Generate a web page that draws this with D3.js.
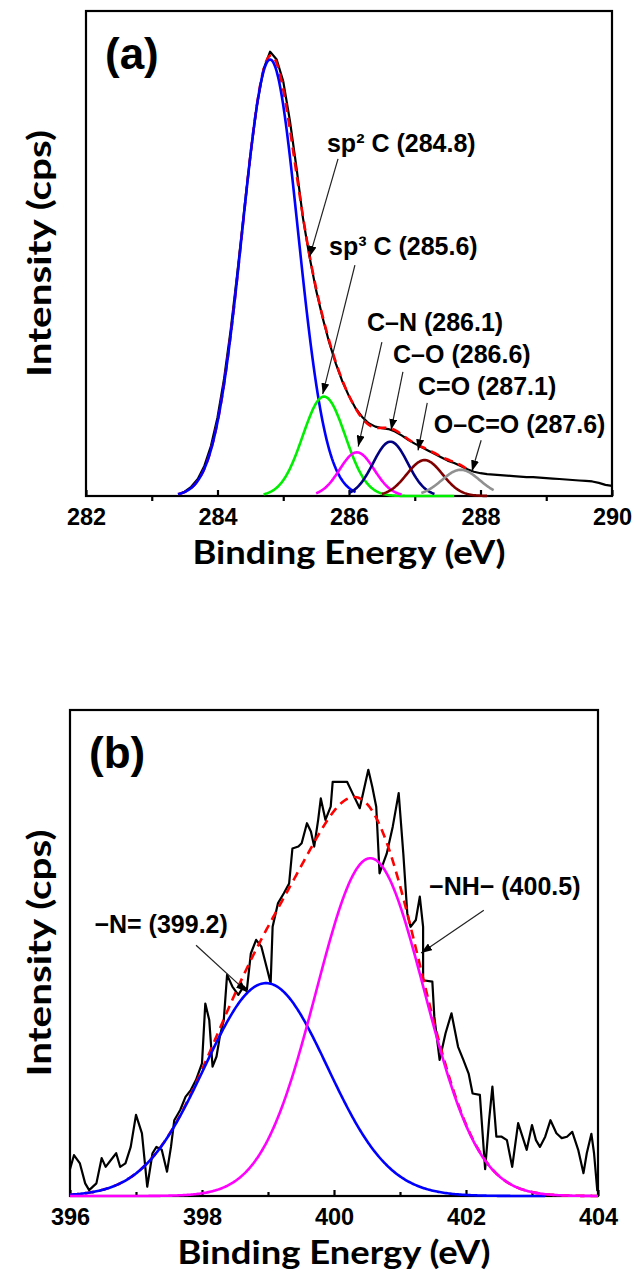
<!DOCTYPE html>
<html><head><meta charset="utf-8">
<script src="https://cdn.jsdelivr.net/npm/d3@7"></script>
<style>html,body{margin:0;padding:0;background:#fff;} svg{display:block;}</style>
</head><body>
<svg id="chart" width="634" height="1271"></svg>
<script>
// ===================== DATA =====================
// Panel (a): C 1s
const aTicks = [282, 284, 286, 288, 290];
const aMinorTicks = [283, 285, 287, 289];
const aMeasured = [
 [283.4,0.3],[283.5,0.9],[283.6,1.9],[283.7,3.5],[283.8,6.2],[283.9,10.3],[284.0,16.2],[284.1,24.2],
 [284.2,34.2],[284.3,45.8],[284.4,58.2],[284.5,70.3],[284.6,80.6],[284.7,88.0],[284.8,91.6],[284.9,90.0],
 [285.0,85.5],[285.1,77.5],[285.2,67.8],[285.3,57.3],[285.4,49.3],[285.5,42.4],[285.6,36.7],[285.7,31.6],
 [285.8,27.3],[285.9,23.6],[286.0,20.6],[286.1,18.1],[286.2,16.3],[286.3,15.0],[286.4,14.3],[286.5,14.0],
 [286.6,13.8],[286.7,13.3],[286.8,12.5],[286.9,11.6],[287.0,10.8],[287.1,10.1],[287.2,9.4],[287.3,8.7],
 [287.4,8.0],[287.5,7.3],[287.6,6.8],[287.7,6.2],[287.8,5.5],[287.9,5.0],[288.0,4.7],[288.1,4.5],
 [288.2,4.4],[288.3,4.3],[288.4,4.2],[288.5,4.1],[288.6,4.0],[288.7,3.9],[288.8,3.9],[288.9,3.8],
 [289.0,3.7],[289.1,3.6],[289.2,3.5],[289.3,3.4],[289.4,3.3],[289.5,3.2],[289.6,3.1],[289.7,3.0],
 [289.8,2.7],[289.9,2.3],[290.0,2.1]
];
const aPeakLabels  = ["sp\u00B2 C (284.8)", "sp\u00B3 C (285.6)", "C\u2013N (286.1)", "C\u2013O (286.6)", "C=O (287.1)", "O\u2013C=O (287.6)"];
const aPeakCenters = [284.8, 285.62, 286.12, 286.63, 287.15, 287.7];
const aPeakHeights = [90, 20.5, 9.0, 11.2, 7.4, 5.4];
const aPeakFWHM    = [1.0, 0.76, 0.62, 0.62, 0.64, 0.68];
const aPeakFrom    = [283.4, 284.7, 285.5, 286.0, 286.5, 287.1];
const aPeakTo      = [286.1, 287.6, 286.8, 287.3, 288.1, 288.2];
const aFitRange    = [283.4, 287.8];

// Panel (b): N 1s
const bTicks = [396, 398, 400, 402, 404];
const bMinorTicks = [397, 399, 401, 403];
const bMeasured = [
 [396.00,5.5],[396.06,8.4],[396.15,6.7],[396.23,2.6],[396.29,1.2],[396.40,2.6],[396.48,7.8],[396.54,6.0],
 [396.62,7.4],[396.70,8.8],[396.76,6.0],[396.84,6.7],[396.92,10.1],[397.00,16.7],[397.09,12.9],[397.17,1.9],
 [397.25,8.8],[397.31,10.1],[397.39,9.5],[397.47,5.0],[397.53,10.1],[397.58,15.6],[397.67,17.7],[397.75,20.4],
 [397.83,21.8],[397.91,23.9],[398.00,27.3],[398.05,39.6],[398.11,36.2],[398.16,26.6],[398.22,28.7],[398.27,32.8],
 [398.33,36.2],[398.38,45.5],[398.46,43.1],[398.55,41.4],[398.63,43.1],[398.68,42.4],[398.74,49.9],[398.82,52.7],
 [398.90,51.3],[398.99,46.5],[399.04,43.8],[399.07,55.4],[399.15,60.2],[399.24,62.3],[399.32,64.3],[399.37,71.5],
 [399.46,71.9],[399.51,72.6],[399.59,76.7],[399.65,75.0],[399.70,71.9],[399.76,77.4],[399.80,81.8],[399.87,77.4],
 [399.95,80.1],[399.98,85.2],[400.20,85.2],[400.28,82.9],[400.39,79.8],[400.52,87.7],[400.58,84.2],[400.64,80.1],
 [400.69,66.4],[400.80,70.5],[400.89,76.0],[400.98,82.9],[401.05,70.5],[401.11,58.2],[401.16,55.4],[401.24,56.8],
 [401.30,61.6],[401.35,55.4],[401.35,44.4],[401.49,44.1],[401.52,36.9],[401.60,28.0],[401.69,33.5],[401.78,37.6],
 [401.88,30.7],[401.96,28.0],[402.04,25.2],[402.10,21.1],[402.21,20.8],[402.29,5.5],[402.35,15.6],[402.40,22.5],
 [402.46,12.2],[402.54,12.2],[402.62,11.5],[402.70,6.0],[402.79,15.0],[402.84,12.9],[402.92,9.5],[403.00,14.6],
 [403.06,11.5],[403.12,10.1],[403.20,12.2],[403.28,15.6],[403.37,12.9],[403.45,11.9],[403.53,12.2],[403.61,13.2],
 [403.70,9.5],[403.78,4.7],[403.83,8.8],[403.90,12.8],[403.94,8.8],[403.99,1.0]
];
const bPeakLabels  = ["\u2212N= (399.2)", "\u2212NH\u2212 (400.5)"];
const bPeakCenters = [398.97, 400.55];
const bPeakHeights = [43.8, 69.5];
const bPeakFWHM    = [2.19, 1.93];
const bPeakFrom    = [396.0, 396.0];
const bPeakTo      = [403.2, 404.0];
const bFitRange    = [396.0, 404.0];

// ===================== LAYOUT / STYLE =====================
const ARIAL = "'Liberation Sans', Arial, Helvetica, sans-serif";
const TITLEFONT = "Lato, 'Noto Sans', sans-serif";

const panels = [
 { tag:"(a)", left:86, right:612, top:11, bottom:496, domain:[282,290],
   ticks:aTicks, minor:aMinorTicks, minorOut:true,
   measured:aMeasured, centers:aPeakCenters, heights:aPeakHeights, fwhm:aPeakFWHM,
   from:aPeakFrom, to:aPeakTo, fitRange:aFitRange, labels:aPeakLabels,
   colors:["#0000ff","#00ee00","#ff00ff","#000080","#800000","#909090"],
   notes:[
     {t:[285.665,70.9], s:[285.833,69.5], e:[285.40,49.3]},
     {t:[285.696,49.7], s:[286.09,47.6], e:[285.60,21.0]},
     {t:[286.274,34.0], s:[286.50,31.75], e:[286.14,10.2]},
     {t:[286.67,27.4],  s:[286.82,25.6], e:[286.64,13.6]},
     {t:[287.05,20.8],  s:[287.19,19.2], e:[287.05,9.4]},
     {t:[287.29,13.0],  s:[288.01,11.5], e:[287.87,5.1]}
   ]},
 { tag:"(b)", left:70, right:598, top:710, bottom:1196, domain:[396,404],
   ticks:bTicks, minor:bMinorTicks, minorOut:false,
   measured:bMeasured, centers:bPeakCenters, heights:bPeakHeights, fwhm:bPeakFWHM,
   from:bPeakFrom, to:bPeakTo, fitRange:bFitRange, labels:bPeakLabels,
   colors:["#0000ff","#ff00ff"],
   notes:[
     {t:[396.37,54.1], s:[397.91,51.6], e:[398.68,42.0]},
     {t:[401.44,61.9], s:[402.27,58.8], e:[401.32,50.0]}
   ]}
];

// ===================== DRAW =====================
const svg = d3.select("#chart");
svg.append("rect").attr("width",634).attr("height",1271).attr("fill","#fff");
svg.append("defs").append("marker").attr("id","arrow")
  .attr("viewBox","0 0 11 8").attr("refX",11).attr("refY",4)
  .attr("markerWidth",11).attr("markerHeight",8).attr("markerUnits","userSpaceOnUse")
  .attr("orient","auto")
  .append("path").attr("d","M0,0L11,4L0,8Z").attr("fill","#000");

function gauss(c, h, w){
  const s = w / (2*Math.sqrt(2*Math.LN2));
  return e => h*Math.exp(-((e-c)*(e-c))/(2*s*s));
}

panels.forEach(p => {
  const x = d3.scaleLinear().domain(p.domain).range([p.left, p.right]);
  const y = d3.scaleLinear().domain([0,100]).range([p.bottom, p.top]);
  const g = svg.append("g");
  const line = d3.line().x(d => x(d[0])).y(d => y(d[1]));

  // frame
  g.append("rect").attr("x",p.left).attr("y",p.top)
    .attr("width",p.right-p.left).attr("height",p.bottom-p.top)
    .attr("fill","none").attr("stroke","#000").attr("stroke-width",2.2);

  // x axis major ticks (inward) with labels
  const ax = d3.axisBottom(x).tickValues(p.ticks).tickSize(-6).tickPadding(12).tickFormat(d3.format("d"));
  const axG = g.append("g").attr("transform",`translate(0,${p.bottom})`).call(ax);
  axG.select(".domain").remove();
  axG.selectAll(".tick line").attr("stroke","#000").attr("stroke-width",2.2);
  axG.selectAll(".tick text").attr("font-family",ARIAL).attr("font-weight","bold")
     .attr("font-size",23.5).attr("fill","#000");
  // minor ticks
  const mx = d3.axisBottom(x).tickValues(p.minor).tickSize(p.minorOut ? 5 : -4).tickFormat("");
  const mG = g.append("g").attr("transform",`translate(0,${p.bottom})`).call(mx);
  mG.select(".domain").remove();
  mG.selectAll(".tick line").attr("stroke","#000").attr("stroke-width",2.2);

  // measured spectrum
  g.append("path").datum(p.measured).attr("d",line).attr("fill","none")
    .attr("stroke","#000").attr("stroke-width",2.2).attr("stroke-linejoin","round");

  // components + envelope
  const fns = p.centers.map((c,i) => gauss(c, p.heights[i], p.fwhm[i]));
  const step = 0.02;
  const fit = d3.range(p.fitRange[0], p.fitRange[1]+1e-9, step).map(e => [e, d3.sum(fns, f => f(e))]);
  g.append("path").datum(fit).attr("d",line).attr("fill","none")
    .attr("stroke","#ff0000").attr("stroke-width",2.6).attr("stroke-dasharray","9,6");
  fns.forEach((f,i) => {
    const pts = d3.range(p.from[i], p.to[i]+1e-9, step).map(e => [e, f(e)]);
    g.append("path").datum(pts).attr("d",line).attr("fill","none")
      .attr("stroke",p.colors[i]).attr("stroke-width",2.6).attr("stroke-linejoin","round");
  });

  // annotations
  p.notes.forEach((n,i) => {
    g.append("line").attr("x1",x(n.s[0])).attr("y1",y(n.s[1]))
      .attr("x2",x(n.e[0])).attr("y2",y(n.e[1]))
      .attr("stroke","#222").attr("stroke-width",1.2).attr("marker-end","url(#arrow)");
    g.append("text").attr("x",x(n.t[0])).attr("y",y(n.t[1]))
      .attr("font-family",ARIAL).attr("font-weight","bold").attr("font-size",25)
      .attr("fill","#000").text(p.labels[i]);
  });

  // panel tag
  g.append("text").attr("x",p.left+19).attr("y",p.top+58)
    .attr("font-family",ARIAL).attr("font-weight","bold").attr("font-size",44).text(p.tag);

  // axis titles
  g.append("text").attr("x",(p.left+p.right)/2).attr("y",p.bottom+68)
    .attr("text-anchor","middle").attr("font-family",TITLEFONT).attr("font-weight","bold")
    .attr("font-size",32).attr("textLength",313).attr("lengthAdjust","spacingAndGlyphs")
    .text("Binding Energy (eV)");
  g.append("text").attr("transform",`translate(51,${(p.top+p.bottom)/2}) rotate(-90)`)
    .attr("text-anchor","middle").attr("font-family",TITLEFONT).attr("font-weight","bold")
    .attr("font-size",33).attr("textLength",247).attr("lengthAdjust","spacingAndGlyphs")
    .text("Intensity (cps)");
});
</script>
</body></html>
